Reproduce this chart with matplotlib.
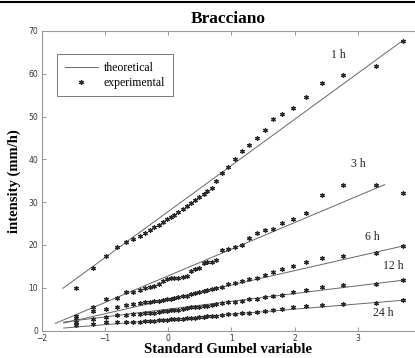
import matplotlib.pyplot as plt
from matplotlib.lines import Line2D

# Standard Gumbel variable (plotting positions, shared by all durations)
gumbel_x = [-1.45, -1.18, -0.98, -0.80, -0.66, -0.55, -0.45, -0.36, -0.28, -0.22,
            -0.15, -0.08, -0.02, 0.04, 0.09, 0.16, 0.23, 0.30, 0.36, 0.43,
            0.49, 0.56, 0.62, 0.69, 0.76, 0.85, 0.95, 1.06, 1.16, 1.28,
            1.40, 1.53, 1.66, 1.80, 1.97, 2.18, 2.43, 2.77, 3.29, 3.71]

# experimental intensities (mm/h)
exp_1h = [10.0, 14.6, 17.5, 19.5, 20.6, 21.5, 22.2, 22.9, 23.5, 24.1,
          24.7, 25.4, 26.0, 26.6, 27.0, 27.6, 28.4, 29.0, 29.7, 30.5,
          31.2, 31.8, 32.5, 33.2, 35.0, 36.8, 38.3, 40.0, 42.0, 43.3,
          45.0, 46.8, 49.5, 50.6, 51.9, 54.6, 57.9, 59.6, 61.8, 67.7]
exp_3h = [3.4, 5.4, 7.5, 7.6, 9.0, 9.0, 9.6, 10.0, 10.3, 10.5,
          11.0, 11.6, 12.0, 12.2, 12.2, 12.4, 12.6, 12.8, 13.9, 14.4,
          14.6, 15.8, 16.0, 16.1, 16.4, 18.8, 19.0, 19.6, 20.0, 21.7,
          22.7, 23.4, 23.8, 25.2, 26.1, 27.5, 31.7, 34.1, 34.1, 32.2]
exp_6h = [2.9, 4.6, 5.0, 5.6, 5.9, 6.2, 6.4, 6.6, 6.8, 6.9,
          7.0, 7.2, 7.3, 7.4, 7.6, 7.8, 8.0, 8.2, 8.5, 8.8,
          9.0, 9.3, 9.5, 9.8, 10.0, 10.3, 10.8, 11.1, 11.6, 12.0,
          12.4, 12.9, 13.6, 14.3, 15.1, 16.0, 16.9, 17.5, 18.1, 19.8]
exp_12h = [2.1, 2.8, 3.2, 3.6, 3.7, 3.8, 3.9, 4.0, 4.1, 4.2,
           4.4, 4.5, 4.6, 4.7, 4.8, 4.9, 5.1, 5.2, 5.4, 5.5,
           5.6, 5.7, 5.8, 6.0, 6.2, 6.4, 6.6, 6.8, 7.0, 7.3,
           7.5, 7.9, 8.1, 8.4, 9.1, 9.5, 10.1, 10.6, 11.0, 11.8]
exp_24h = [1.2, 1.6, 1.9, 2.0, 2.0, 2.1, 2.1, 2.2, 2.3, 2.3,
           2.4, 2.5, 2.5, 2.6, 2.7, 2.7, 2.8, 2.9, 3.0, 3.0,
           3.1, 3.2, 3.3, 3.4, 3.5, 3.6, 3.8, 3.9, 4.1, 4.2,
           4.4, 4.6, 4.8, 5.0, 5.4, 5.7, 6.0, 6.2, 6.5, 7.1]

# theoretical (Gumbel fit) lines: end points
theo_x = {'1 h': [-1.66, 3.70], '3 h': [-1.78, 3.42], '6 h': [-1.65, 3.72],
          '12 h': [-1.65, 3.72], '24 h': [-1.65, 3.72]}
theo_y = {'1 h': [9.9, 67.7], '3 h': [1.7, 34.1], '6 h': [1.75, 19.8],
          '12 h': [2.0, 11.8], '24 h': [0.6, 7.1]}

durations = ['1 h', '3 h', '6 h', '12 h', '24 h']
experimental = [exp_1h, exp_3h, exp_6h, exp_12h, exp_24h]
label_x = [2.69, 3.00, 3.22, 3.56, 3.40]
label_y = [64.4, 38.9, 21.9, 15.1, 4.0]

serif = 'Liberation Serif'
line_col = '#666666'
pt_col = '#2a2a2a'
asterisk = (6, 2, 0)

fig = plt.figure(figsize=(4.15, 3.58), dpi=100)
ax = fig.add_axes([0.100, 0.0765, 0.900, 0.837])

for name, ys in zip(durations, experimental):
    ax.plot(theo_x[name], theo_y[name], color=line_col, lw=0.7)
    ax.plot(gumbel_x, ys, linestyle='none', marker=asterisk, ms=3.4,
            mec=pt_col, mew=0.9, color=pt_col)

for name, lx, ly in zip(durations, label_x, label_y):
    ax.text(lx, ly, name, fontsize=8.5, family=serif, ha='center', va='center',
            color='#222222')

ax.set_xlim(-2, 3.9)
ax.set_ylim(0, 70)
ax.set_xticks([-2, -1, 0, 1, 2, 3])
ax.set_yticks(range(0, 71, 10))
ax.tick_params(direction='in', length=3, width=0.6, colors='#888888',
               labelcolor='#333333', labelsize=5.5, top=True)
ax.tick_params(axis='y', pad=2.5)
ax.tick_params(axis='x', pad=2.5)
for side in ['left', 'bottom', 'top']:
    ax.spines[side].set_color('#999999')
    ax.spines[side].set_linewidth(0.8)
ax.spines['right'].set_visible(False)

ax.set_title('Bracciano', fontsize=12.5, fontweight='bold', family=serif, pad=6)
ax.set_xlabel('Standard Gumbel variable', fontsize=10.5, fontweight='bold',
              family=serif, labelpad=0)
ax.set_ylabel('intensity (mm/h)', fontsize=10.5, fontweight='bold',
              family=serif, labelpad=5)

handles = [Line2D([], [], color=line_col, lw=0.7),
           Line2D([], [], linestyle='none', marker=asterisk, ms=3.4,
                  mec=pt_col, mew=0.9)]
leg = ax.legend(handles, ['theoretical', 'experimental'], loc='upper left',
                bbox_to_anchor=(0.042, 0.923), borderaxespad=0, fancybox=False,
                prop={'family': serif, 'size': 8.5}, handlelength=2.8,
                handletextpad=0.5, borderpad=0.65, labelspacing=0.25)
leg.get_frame().set_edgecolor('#555555')
leg.get_frame().set_linewidth(0.7)

# page border line along the top
fig.add_artist(Line2D([0, 1], [0.994, 0.994], color='black', lw=1.5,
                      transform=fig.transFigure))

fig.savefig('out.png', dpi=100)
